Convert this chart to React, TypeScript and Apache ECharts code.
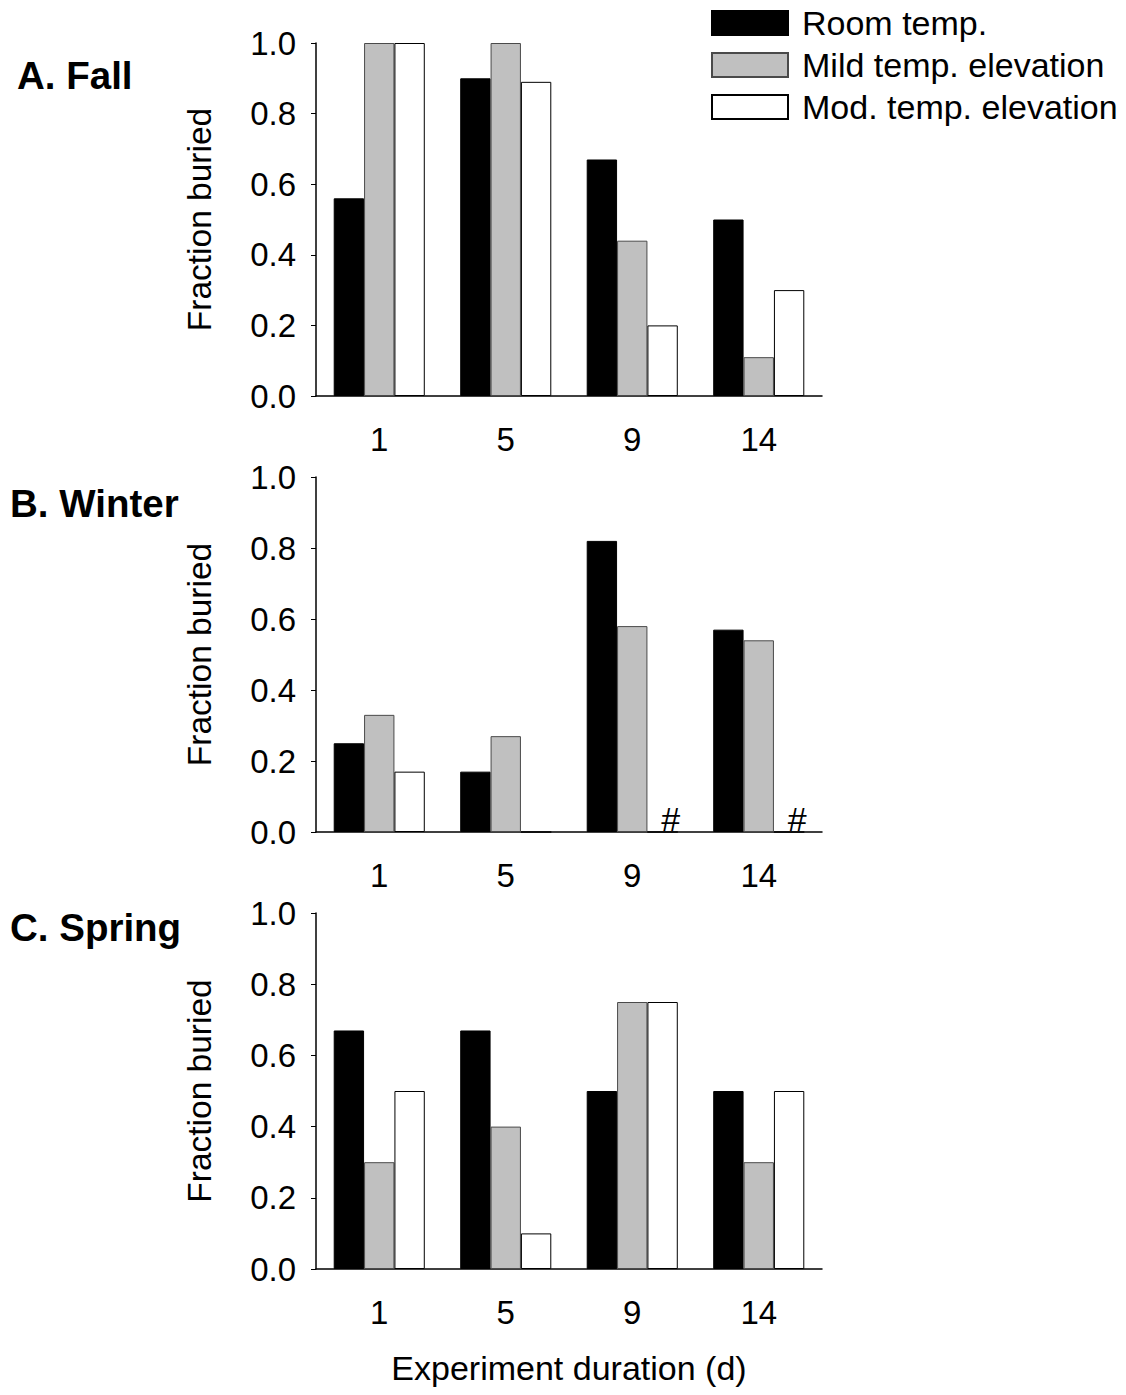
import React, { useEffect, useRef } from "react";
import * as echarts from "echarts";

const categories = ["1", "5", "9", "14"];
const seriesNames = ["Room temp.", "Mild temp. elevation", "Mod. temp. elevation"];
const panelTitles = ["A. Fall", "B. Winter", "C. Spring"];

const fallRoom = [0.56, 0.9, 0.67, 0.5];
const fallMild = [1.0, 1.0, 0.44, 0.11];
const fallMod = [1.0, 0.89, 0.2, 0.3];

const winterRoom = [0.25, 0.17, 0.82, 0.57];
const winterMild = [0.33, 0.27, 0.58, 0.54];
const winterMod = [0.17, 0, 0, 0];
const winterModMarks = ["", "", "#", "#"];

const springRoom = [0.67, 0.67, 0.5, 0.5];
const springMild = [0.3, 0.4, 0.75, 0.3];
const springMod = [0.5, 0.1, 0.75, 0.5];

const yMin = 0;
const yMax = 1;
const yStep = 0.2;

const yAxisName = "Fraction buried";
const xAxisName = "Experiment duration (d)";

const FONT = "Liberation Sans, Arial, sans-serif";

export default function App() {
  const ref = useRef<HTMLDivElement>(null);

  useEffect(() => {
    document.body.style.margin = "0";
    const chart = echarts.init(ref.current!, null, { renderer: "svg" });

    const gridTops = [43, 477, 913];
    const gridHeights = [353, 355, 356];
    const panels = [
      [fallRoom, fallMild, fallMod],
      [winterRoom, winterMild, winterMod],
      [springRoom, springMild, springMod],
    ];
    const styles = [
      { color: "#000000", borderColor: "#000000", borderWidth: 1 },
      { color: "#c0c0c0", borderColor: "#4a4a4a", borderWidth: 1 },
      { color: "#ffffff", borderColor: "#000000", borderWidth: 1 },
    ];

    const grids = gridTops.map((t, i) => ({
      left: 316,
      right: 304,
      top: t,
      height: gridHeights[i],
    }));

    const xAxes = gridTops.map((_, i) => ({
      type: "category",
      gridIndex: i,
      data: categories,
      axisLine: { lineStyle: { color: "#000", width: 1.5 } },
      axisTick: { alignWithLabel: true, length: 5, lineStyle: { color: "#000", width: 1 } },
      axisLabel: { color: "#000", fontSize: 33, fontFamily: FONT, margin: 27 },
      name: i === 2 ? xAxisName : "",
      nameLocation: "middle",
      nameGap: 82,
      nameTextStyle: { color: "#000", fontSize: 34, fontFamily: FONT },
    }));

    const yAxes = gridTops.map((_, i) => ({
      type: "value",
      gridIndex: i,
      min: yMin,
      max: yMax,
      interval: yStep,
      splitLine: { show: false },
      axisLine: { show: true, lineStyle: { color: "#000", width: 1.5 } },
      axisTick: { show: true, length: 5, lineStyle: { color: "#000", width: 1 } },
      axisLabel: {
        color: "#000",
        fontSize: 33,
        fontFamily: FONT,
        margin: 20,
        formatter: (v: number) => v.toFixed(1),
      },
      name: yAxisName,
      nameLocation: "middle",
      nameRotate: 90,
      nameGap: 100,
      nameTextStyle: { color: "#000", fontSize: 33.5, fontFamily: FONT },
    }));

    const series: any[] = [];
    panels.forEach((vals, p) => {
      vals.forEach((arr, s) => {
        const data = arr.map((v, k) => {
          if (p === 1 && s === 2 && winterModMarks[k]) {
            return {
              value: v,
              label: {
                show: true,
                position: "top",
                distance: 0,
                offset: [8, 4],
                formatter: winterModMarks[k],
                color: "#000",
                fontSize: 34,
                fontFamily: FONT,
              },
            };
          }
          return v;
        });
        series.push({
          type: "bar",
          name: seriesNames[s],
          xAxisIndex: p,
          yAxisIndex: p,
          data,
          barGap: "0%",
          barCategoryGap: "28%",
          itemStyle: styles[s],
          emphasis: { disabled: true },
        });
      });
    });

    chart.setOption({
      animation: false,
      backgroundColor: "#ffffff",
      grid: grids,
      xAxis: xAxes,
      yAxis: yAxes,
      legend: {
        data: seriesNames,
        orient: "vertical",
        left: 706,
        top: 1,
        itemWidth: 76,
        itemHeight: 24,
        itemGap: 8,
        icon: "rect",
        textStyle: {
          color: "#000",
          fontSize: 34,
          fontFamily: FONT,
          lineHeight: 34,
          padding: [0, 0, 0, 9],
        },
      },
      graphic: panelTitles.map((t, i) => ({
        type: "text",
        x: i === 0 ? 17 : 10,
        y: [75, 503, 927][i],
        style: {
          text: t,
          fontSize: 38.5,
          fontWeight: "bold",
          fontFamily: FONT,
          fill: "#000",
          verticalAlign: "middle",
        },
      })),
      series,
    });

    return () => chart.dispose();
  }, []);

  return <div ref={ref} style={{ width: 1126, height: 1395 }} />;
}
